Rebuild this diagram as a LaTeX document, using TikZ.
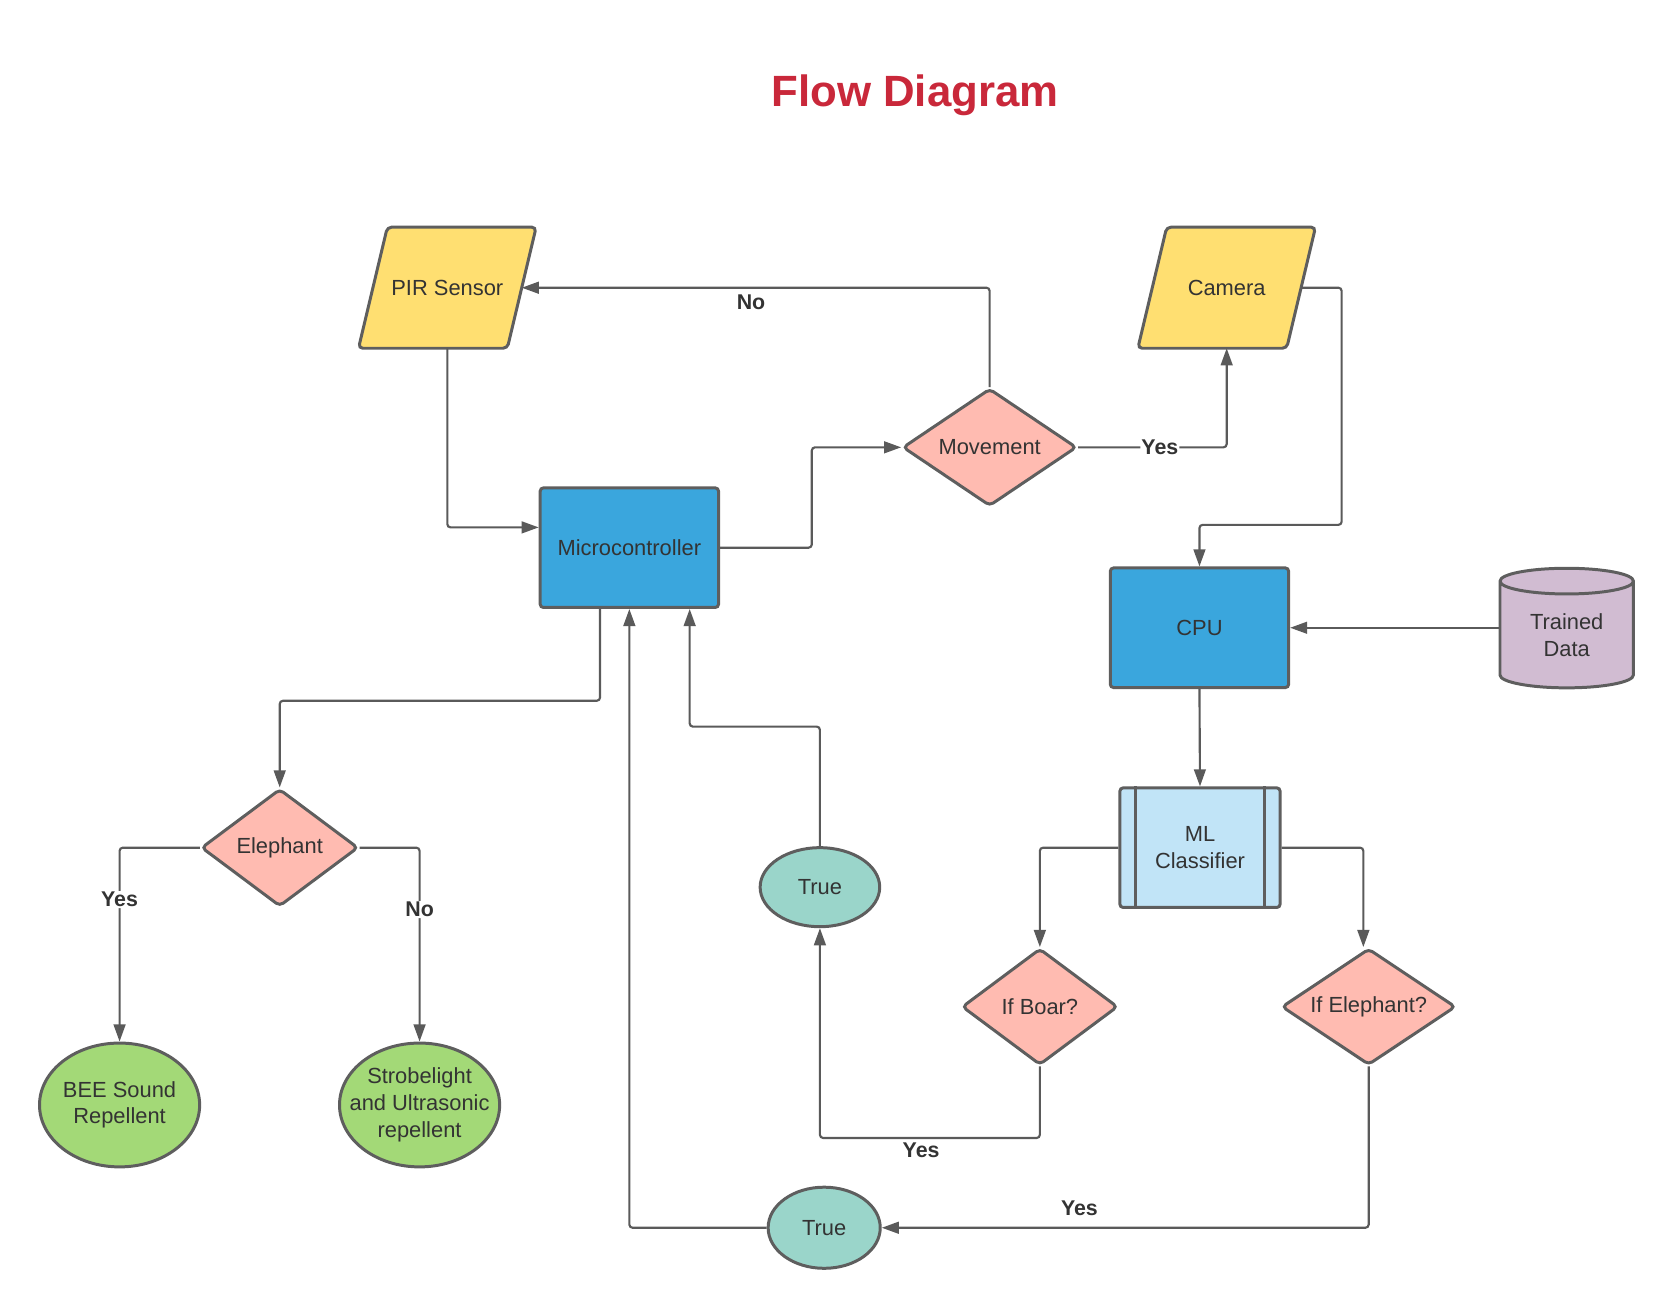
\documentclass[tikz,border=0pt]{standalone}
\usepackage{fontspec}
\setmainfont{Liberation Sans}
\usetikzlibrary{shapes.geometric,arrows.meta,positioning,backgrounds}

\definecolor{ioyellow}{RGB}{255,223,113}
\definecolor{decpink}{RGB}{255,187,177}
\definecolor{procblue}{RGB}{58,166,221}
\definecolor{mlblue}{RGB}{193,228,247}
\definecolor{datapurple}{RGB}{209,188,210}
\definecolor{endteal}{RGB}{154,213,202}
\definecolor{outgreen}{RGB}{163,217,119}
\definecolor{edgegray}{RGB}{94,94,94}
\definecolor{linegray}{RGB}{90,90,90}
\definecolor{titlered}{RGB}{201,40,58}
\definecolor{txtgray}{RGB}{51,51,51}

\begin{document}
\begin{tikzpicture}[
    x=1pt, y=-1pt,
    font=\fontsize{20.5}{25}\selectfont,
    shp/.style={draw=edgegray, line width=2.8pt, align=center, inner sep=0pt,
                text=txtgray},
    iobox/.style={rectangle, align=center, inner sep=0pt, text=txtgray,
                  minimum width=139, minimum height=113},
    ioshape/.style={draw=edgegray, line width=2.8pt, fill=ioyellow,
                    rounded corners=4pt},
    procbox/.style={shp, rectangle, minimum width=167, minimum height=112,
                    fill=procblue, rounded corners=3pt},
    decbox/.style={shp, diamond, aspect=1.5, fill=decpink, rounded corners=4pt},
    endoval/.style={shp, ellipse, fill=endteal},
    outoval/.style={shp, ellipse, fill=outgreen, minimum width=150,
                    minimum height=116, inner xsep=-13pt},
    conn/.style={draw=linegray, line width=2pt, rounded corners=3pt,
                 -{Triangle[length=16pt,width=11pt]}},
    lab/.style={font=\fontsize{20}{24}\selectfont\bfseries, text=txtgray,
                inner sep=1pt},
  ]
  \useasboundingbox (0,0) rectangle (1568,1225);

  %% ===== title =====
  \node[font=\fontsize{41}{48}\selectfont\bfseries, text=titlered]
    (title) at (857,89) {Flow Diagram};

  %% ===== sensors (parallelograms) =====
  \node[iobox] (pir) at (419,269.5) {PIR Sensor};
  \node[iobox] (cam) at (1149,269.5) {Camera};
  \begin{scope}[on background layer]
    \foreach \io in {pir,cam}
      \draw[ioshape] ([xshift=13.5pt]\io.north west) -- ([xshift=13.5pt]\io.north east)
        -- ([xshift=-13.5pt]\io.south east) -- ([xshift=-13.5pt]\io.south west) -- cycle;
  \end{scope}

  %% ===== controllers =====
  \node[decbox, minimum width=163, minimum height=110] (mov) at (927,419) {Movement};
  \node[procbox] (mc) at (589.5,513) {Microcontroller};
  \node[procbox] (cpu) at (1123.5,588) {CPU};
  \node[shp, cylinder, shape border rotate=90, aspect=0.35, fill=datapurple,
        minimum width=125, minimum height=112] (data) at (1467.5,595) {Trained\\Data};

  %% ML classifier (predefined process)
  \node[shp, rectangle, minimum width=150, minimum height=112, fill=mlblue,
        rounded corners=3pt] (ml) at (1124,794) {ML\\Classifier};
  \draw[edgegray, line width=2.8pt] ([xshift=16pt]ml.north west) -- ([xshift=16pt]ml.south west);
  \draw[edgegray, line width=2.8pt] ([xshift=-16pt]ml.north east) -- ([xshift=-16pt]ml.south east);

  %% ===== decisions and outcomes =====
  \node[decbox, minimum width=147, minimum height=110] (ele) at (262,794) {Elephant};
  \node[decbox, minimum width=146, minimum height=109] (boar) at (974,943) {If Boar?};
  \node[decbox, minimum width=163, minimum height=109] (ifel) at (1282,943) {If Elephant?};
  \node[endoval, minimum width=112, minimum height=74] (t1) at (768,831) {True};
  \node[endoval, minimum width=105, minimum height=76] (t2) at (772,1150) {True};
  \node[outoval] (bee) at (112,1035) {BEE Sound\\Repellent};
  \node[outoval] (strobe) at (393,1035) {Strobelight\\and Ultrasonic\\repellent};

  %% ===== connectors =====
  \draw[conn] (pir.south) |- ([yshift=19pt]mc.west);
  \draw[conn] (mc.east) -- ++(86,0) |- (mov.west);
  \draw[conn] (mov.north) |- (pir.east)
    node[lab, pos=0.755, below=5pt] {No};
  \draw[conn] (mov.east) -| (cam.south)
    node[lab, pos=0.275, fill=white] {Yes};
  \draw[conn] (cam.east) -- ++(38,0) |- ([yshift=39pt]cpu.north) -- (cpu.north);
  \draw[conn] (data.west |- cpu.east) -- (cpu.east);
  \draw[conn] (cpu.south) -- (ml.north);
  \draw[conn] (ml.west) -| (boar.north);
  \draw[conn] (ml.east) -| ([xshift=-5pt]ifel.north);
  \draw[conn] (boar.south) -- ++(0,67) -| (t1.south)
    node[lab, pos=0.27, below=3pt] {Yes};
  \draw[conn] (ifel.south) |- (t2.east)
    node[lab, pos=0.797, above=9pt] {Yes};
  \draw[conn] (t2.west) -| (mc.south);
  \draw[conn] (t1.north) -- ++(0,-112) -| ([xshift=56.5pt]mc.south);
  \draw[conn] ([xshift=-27.5pt]mc.south) -- ++(0,86) -| (ele.north);
  \draw[conn] (ele.west) -| (bee.north)
    node[lab, pos=0.634, fill=white] {Yes};
  \draw[conn] (ele.east) -| (strobe.north)
    node[lab, pos=0.66, fill=white] {No};
\end{tikzpicture}
\end{document}
